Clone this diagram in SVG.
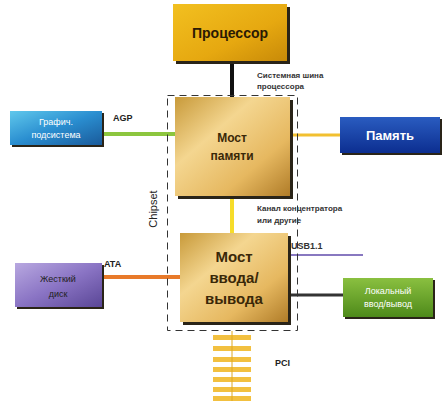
<svg xmlns="http://www.w3.org/2000/svg" width="442" height="405" viewBox="0 0 442 405">
<defs>
<linearGradient id="gYellow" x1="0" y1="0" x2="1" y2="1">
<stop offset="0" stop-color="#f2c020"/><stop offset="0.6" stop-color="#e6a810"/><stop offset="1" stop-color="#c88a08"/>
</linearGradient>
<linearGradient id="gGold" x1="0" y1="0" x2="1" y2="1">
<stop offset="0" stop-color="#c89a3a"/><stop offset="0.35" stop-color="#f4d690"/><stop offset="0.7" stop-color="#e6b860"/><stop offset="1" stop-color="#b07c28"/>
</linearGradient>
<linearGradient id="gBlue" x1="0" y1="0" x2="0" y2="1">
<stop offset="0" stop-color="#2a5cc0"/><stop offset="1" stop-color="#0c2e90"/>
</linearGradient>
<linearGradient id="gCyan" x1="0" y1="0" x2="1" y2="1">
<stop offset="0" stop-color="#60c8ec"/><stop offset="0.5" stop-color="#2a8ed0"/><stop offset="1" stop-color="#1a5a9a"/>
</linearGradient>
<linearGradient id="gPurple" x1="0" y1="0" x2="1" y2="1">
<stop offset="0" stop-color="#b8a8e0"/><stop offset="0.5" stop-color="#8a74c4"/><stop offset="1" stop-color="#5a4696"/>
</linearGradient>
<linearGradient id="gGreen" x1="0" y1="0" x2="0" y2="1">
<stop offset="0" stop-color="#8ac040"/><stop offset="1" stop-color="#4e8a1a"/>
</linearGradient>
<style>
.sh{fill:#2a2418;}
.lbl{font-family:"Liberation Sans",Arial,sans-serif;font-size:8px;font-weight:bold;fill:#333;}
.lblb{font-family:"Liberation Sans",Arial,sans-serif;font-size:9px;font-weight:bold;fill:#222;}
.dark{font-family:"Liberation Sans",Arial,sans-serif;font-weight:bold;fill:#3a2808;text-anchor:middle;}
.white{font-family:"Liberation Sans",Arial,sans-serif;fill:#fff;text-anchor:middle;}
</style>
</defs>
<rect width="442" height="405" fill="#fff"/>

<g id="connectors">
<line x1="232" y1="62" x2="232" y2="100" stroke="#111" stroke-width="4"/>
<line x1="102" y1="134" x2="178" y2="134" stroke="#8cc63e" stroke-width="4"/>
<line x1="290" y1="135" x2="342" y2="135" stroke="#f2c030" stroke-width="3"/>
<line x1="232" y1="196" x2="232" y2="234" stroke="#f6dc2a" stroke-width="4"/>
<line x1="102" y1="277" x2="182" y2="277" stroke="#e87a2a" stroke-width="4"/>
<line x1="288" y1="255" x2="363" y2="255" stroke="#8878c0" stroke-width="2"/>
<line x1="288" y1="295" x2="345" y2="295" stroke="#333" stroke-width="3"/>
<rect x="167.5" y="95.5" width="130" height="235" fill="none" stroke="#333" stroke-width="1" stroke-dasharray="7,5"/>
</g>

<g id="processor">
<rect class="sh" x="176" y="7" width="114" height="57"/>
<rect x="173" y="4" width="114" height="57" fill="url(#gYellow)"/>
<text class="dark" x="230" y="38" font-size="14" style="fill:#2a1a04">Процессор</text>
</g>
<text class="lbl" x="257" y="78">Системная шина</text>
<text class="lbl" x="257" y="89">процессора</text>

<g id="graphics">
<rect class="sh" x="12" y="113" width="92" height="34"/>
<rect x="10" y="111" width="92" height="34" fill="url(#gCyan)"/>
<text class="white" x="56" y="125" font-size="9">Графич.</text>
<text class="white" x="56" y="138" font-size="9">подсистема</text>
</g>
<text class="lblb" x="113" y="121">AGP</text>

<g id="memory-bridge">
<rect class="sh" x="178" y="100" width="115" height="99"/>
<rect x="175" y="97" width="115" height="99" fill="url(#gGold)"/>
<text class="dark" x="232" y="142" font-size="12">Мост</text>
<text class="dark" x="232" y="160" font-size="12">памяти</text>
</g>

<g id="memory">
<rect class="sh" x="342" y="119" width="100" height="36"/>
<rect x="340" y="117" width="100" height="36" fill="url(#gBlue)"/>
<text class="white" x="390" y="140" font-size="13" font-weight="bold">Память</text>
</g>

<text transform="translate(157 209) rotate(-90)" text-anchor="middle" font-family="Liberation Sans, Arial, sans-serif" font-size="11" fill="#222">Chipset</text>

<text class="lbl" x="257" y="211">Канал концентратора</text>
<text class="lbl" x="257" y="223">или другие</text>

<g id="io-bridge">
<rect class="sh" x="183" y="236" width="108" height="89"/>
<rect x="180" y="233" width="108" height="89" fill="url(#gGold)"/>
<text class="dark" x="234" y="262" font-size="15">Мост</text>
<text class="dark" x="234" y="283" font-size="15">ввода/</text>
<text class="dark" x="234" y="304" font-size="15">вывода</text>
</g>
<text class="lbl" x="291" y="249" style="font-size:9px">USB1.1</text>

<g id="hard-disk">
<rect class="sh" x="17" y="265" width="87" height="44"/>
<rect x="15" y="263" width="87" height="44" fill="url(#gPurple)"/>
<text class="dark" x="58" y="282" font-size="9" style="font-weight:normal;fill:#222">Жесткий</text>
<text class="dark" x="58" y="297" font-size="9" style="font-weight:normal;fill:#222">диск</text>
</g>
<text class="lblb" x="104" y="267">ATA</text>

<g id="local-io">
<rect class="sh" x="345" y="280" width="90" height="39"/>
<rect x="343" y="278" width="90" height="39" fill="url(#gGreen)"/>
<text class="white" x="388" y="294" font-size="9">Локальный</text>
<text class="white" x="388" y="307" font-size="9">ввод/вывод</text>
</g>

<g id="pci">
<rect x="213" y="335" width="38" height="5" fill="#f2c040"/>
<rect x="213" y="346" width="38" height="5" fill="#f2c040"/>
<rect x="213" y="357" width="38" height="5" fill="#f2c040"/>
<rect x="213" y="367" width="38" height="5" fill="#f2c040"/>
<rect x="213" y="377" width="38" height="5" fill="#f2c040"/>
<rect x="213" y="387" width="38" height="5" fill="#f2c040"/>
<rect x="213" y="396" width="38" height="5" fill="#f2c040"/>
<line x1="232" y1="331" x2="232" y2="401" stroke="#e0a820" stroke-width="1"/>
</g>
<text class="lblb" x="275" y="366">PCI</text>
</svg>
